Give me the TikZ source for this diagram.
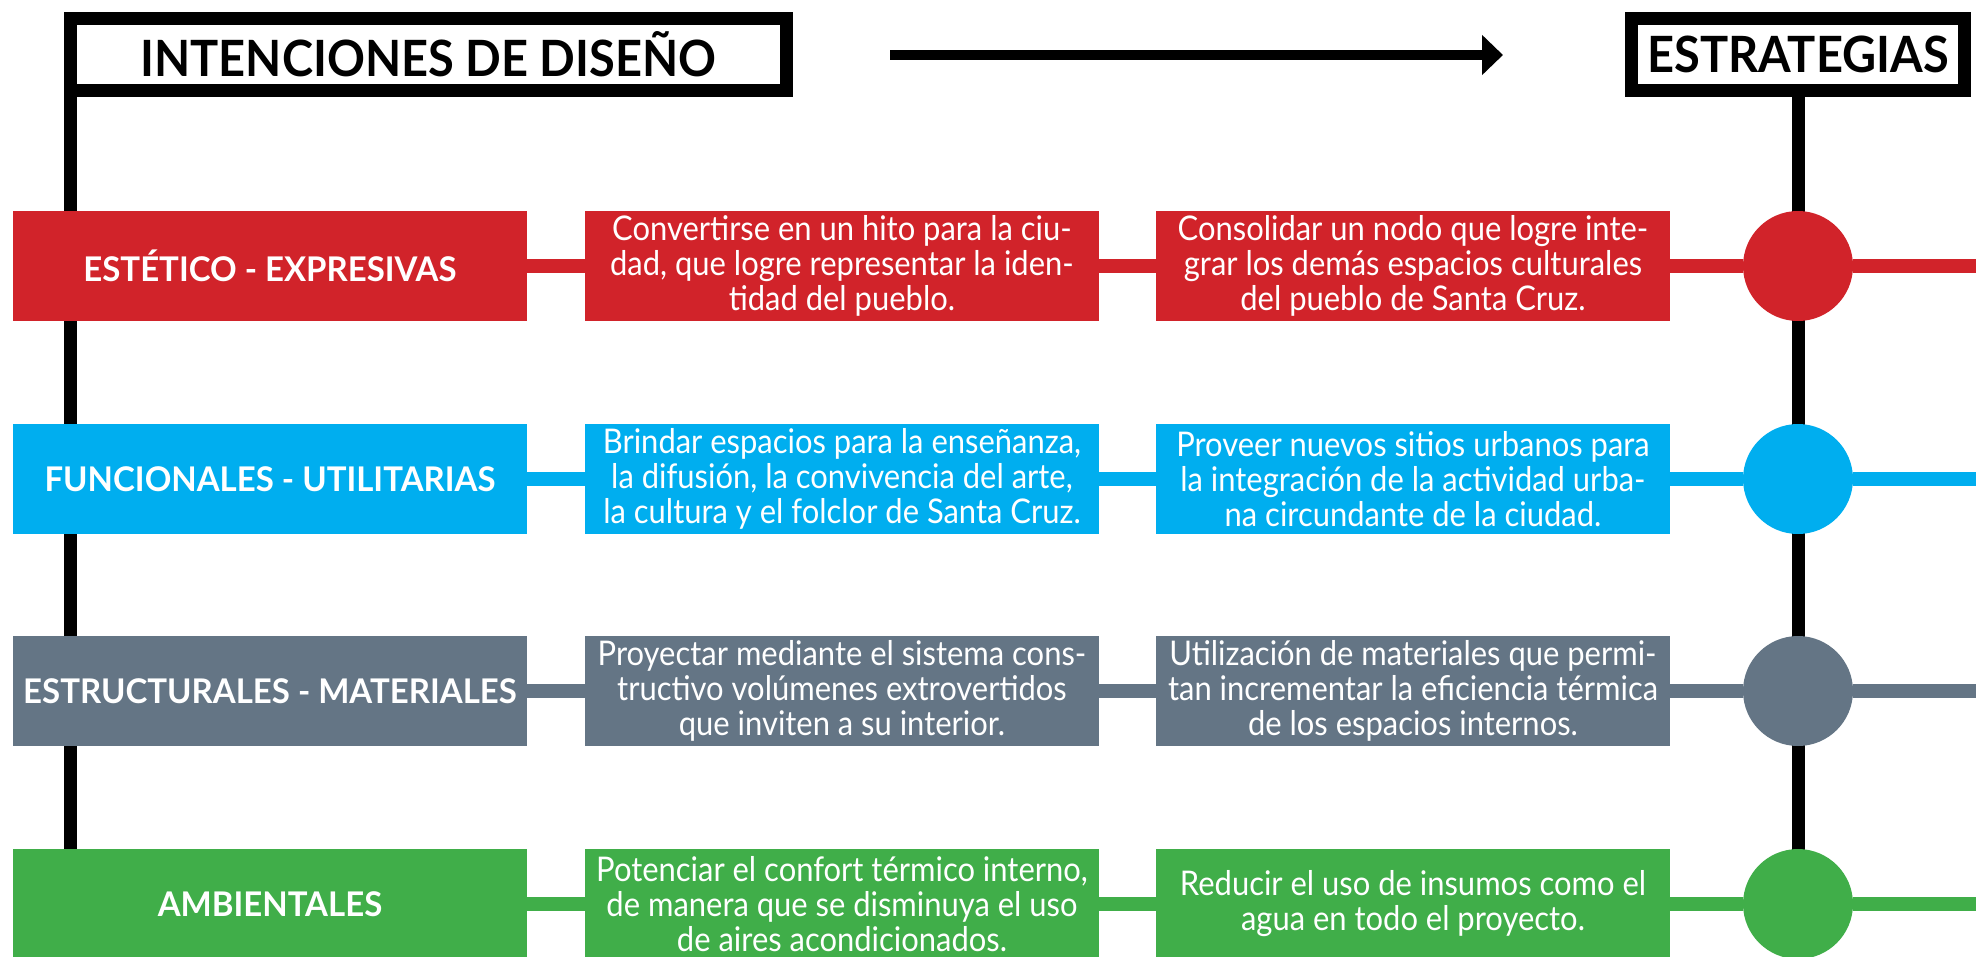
\documentclass[tikz,border=0pt]{standalone}
\usepackage{fontspec}
\setmainfont{Lato}
\newfontfamily\hdrfont[FakeStretch=0.94]{Lato}
\newfontfamily\catfont[FakeStretch=0.97]{Lato}
\newfontfamily\txtfont[FakeStretch=0.91]{Lato}
\usetikzlibrary{arrows.meta,positioning}

\definecolor{estRed}{RGB}{209,35,42}
\definecolor{funBlue}{RGB}{0,174,239}
\definecolor{matGrey}{RGB}{100,117,133}
\definecolor{ambGreen}{RGB}{64,174,73}

\begin{document}
\begin{tikzpicture}[
    x=1pt, y=-1pt,
    node distance=58pt,
    hdrbox/.style={draw, line width=13pt, fill=white, minimum height=72pt, inner sep=0pt, outer sep=0pt, font=\hdrfont\bfseries\fontsize{50}{54}\selectfont},
    catbox/.style={fill=#1, text=white, minimum width=514pt, minimum height=110pt, inner sep=0pt, outer sep=0pt, font=\catfont\bfseries\fontsize{34}{38}\selectfont},
    intbox/.style={fill=#1, text=white, minimum width=514pt, minimum height=110pt, inner sep=0pt, outer sep=0pt, align=center, font=\txtfont\fontsize{34}{35}\selectfont},
    hub/.style={circle, fill=#1, minimum size=110pt, inner sep=0pt, outer sep=0pt},
    axis/.style={line width=13pt},
    link/.style={line width=14pt, draw=#1},
    arrow/.style={line width=10pt, -{Triangle[length=21pt,width=39pt]}}
]
\useasboundingbox (0,0) rectangle (1976,956);

% headers and axes
\node[hdrbox, minimum width=716pt] (intent) at (428.5,54.5) {INTENCIONES DE DISEÑO};
\node[hdrbox, minimum width=333pt] (strat) at (1798,54.5) {ESTRATEGIAS};
\coordinate (arrowA) at (890,55);
\coordinate (arrowB) at (1503,55);
\draw[arrow] (arrowA) -- (arrowB);
\coordinate (intentEnd) at (70.5,956);
\coordinate (stratEnd) at (1798,956);
\draw[axis] (intent.south west) -- (intentEnd);
\draw[axis] (strat.south) -- (stratEnd);

% row 1
\node[catbox=estRed] (est) at (270,266) {ESTÉTICO - EXPRESIVAS};
\node[intbox=estRed] (estA) [right=of est] {Convertirse en un hito para la ciu-\\dad, que logre representar la iden-\\tidad del pueblo.};
\node[intbox=estRed] (estB) [right=57pt of estA] {Consolidar un nodo que logre inte-\\grar los demás espacios culturales\\del pueblo de Santa Cruz.};
\node[hub=estRed] (estC) [right=73pt of estB] {};
\coordinate (estEnd) at (1976,266);
\draw[link=estRed] (est) -- (estA) (estA) -- (estB) (estB) -- (estC) (estC) -- (estEnd);

% row 2
\node[catbox=funBlue] (fun) at (270,479) {FUNCIONALES - UTILITARIAS};
\node[intbox=funBlue] (funA) [right=of fun] {Brindar espacios para la enseñanza,\\la difusión, la convivencia del arte,\\la cultura y el folclor de Santa Cruz.};
\node[intbox=funBlue] (funB) [right=57pt of funA] {Proveer nuevos sitios urbanos para\\la integración de la actividad urba-\\na circundante de la ciudad.};
\node[hub=funBlue] (funC) [right=73pt of funB] {};
\coordinate (funEnd) at (1976,479);
\draw[link=funBlue] (fun) -- (funA) (funA) -- (funB) (funB) -- (funC) (funC) -- (funEnd);

% row 3
\node[catbox=matGrey] (mat) at (270,691) {ESTRUCTURALES - MATERIALES};
\node[intbox=matGrey] (matA) [right=of mat] {Proyectar mediante el sistema cons-\\tructivo volúmenes extrovertidos\\que inviten a su interior.};
\node[intbox=matGrey] (matB) [right=57pt of matA] {Utilización de materiales que permi-\\tan incrementar la eficiencia térmica\\de los espacios internos.};
\node[hub=matGrey] (matC) [right=73pt of matB] {};
\coordinate (matEnd) at (1976,691);
\draw[link=matGrey] (mat) -- (matA) (matA) -- (matB) (matB) -- (matC) (matC) -- (matEnd);

% row 4
\node[catbox=ambGreen] (amb) at (270,904) {AMBIENTALES};
\node[intbox=ambGreen] (ambA) [right=of amb] {Potenciar el confort térmico interno,\\de manera que se disminuya el uso\\de aires acondicionados.};
\node[intbox=ambGreen] (ambB) [right=57pt of ambA] {Reducir el uso de insumos como el\\agua en todo el proyecto.};
\node[hub=ambGreen] (ambC) [right=73pt of ambB] {};
\coordinate (ambEnd) at (1976,904);
\draw[link=ambGreen] (amb) -- (ambA) (ambA) -- (ambB) (ambB) -- (ambC) (ambC) -- (ambEnd);
\end{tikzpicture}
\end{document}
